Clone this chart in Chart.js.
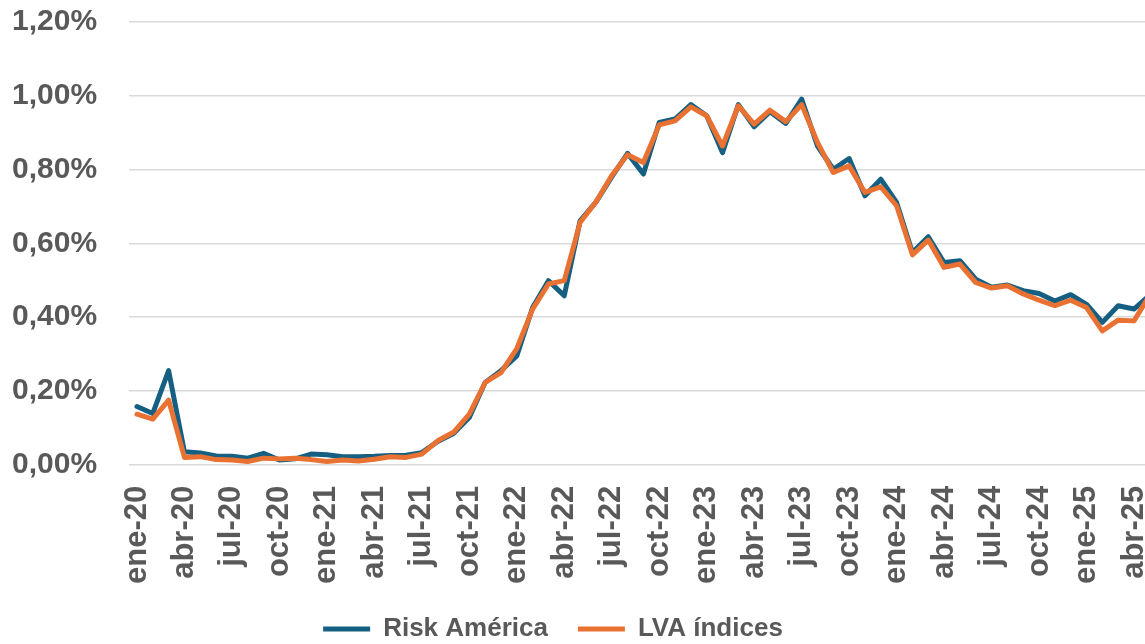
<!DOCTYPE html>
<html>
<head>
<meta charset="utf-8">
<script src="https://cdn.jsdelivr.net/npm/chart.js@4/dist/chart.umd.min.js"></script>
<style>
  html, body { margin: 0; padding: 0; background: #ffffff; overflow: hidden; }
  body { position: relative; width: 1145px; height: 644px; }
  /* chart is a bit bigger than the window and cropped, like the original */
  #wrap { position: absolute; left: -20px; top: -28px; width: 1228px; height: 699px; }
</style>
</head>
<body>
<div id="wrap"><canvas id="riskChart"></canvas></div>
<script>
// Months shown on the x axis (monthly data, label every 3 months)
const categories = [
  'ene-20','feb-20','mar-20','abr-20','may-20','jun-20','jul-20','ago-20','sep-20','oct-20','nov-20','dic-20',
  'ene-21','feb-21','mar-21','abr-21','may-21','jun-21','jul-21','ago-21','sep-21','oct-21','nov-21','dic-21',
  'ene-22','feb-22','mar-22','abr-22','may-22','jun-22','jul-22','ago-22','sep-22','oct-22','nov-22','dic-22',
  'ene-23','feb-23','mar-23','abr-23','may-23','jun-23','jul-23','ago-23','sep-23','oct-23','nov-23','dic-23',
  'ene-24','feb-24','mar-24','abr-24','may-24','jun-24','jul-24','ago-24','sep-24','oct-24','nov-24','dic-24',
  'ene-25','feb-25','mar-25','abr-25','may-25'
];

// Values in percent
const riskAmerica = [
  0.158, 0.139, 0.255, 0.035, 0.032, 0.024, 0.023, 0.018, 0.031, 0.013, 0.016, 0.029,
  0.027, 0.022, 0.022, 0.023, 0.025, 0.026, 0.033, 0.063, 0.085, 0.128, 0.223, 0.255,
  0.295, 0.426, 0.499, 0.458, 0.661, 0.712, 0.780, 0.844, 0.788, 0.928, 0.937, 0.976,
  0.946, 0.846, 0.976, 0.916, 0.957, 0.925, 0.991, 0.864, 0.801, 0.830, 0.729, 0.774,
  0.711, 0.575, 0.618, 0.548, 0.553, 0.503, 0.481, 0.487, 0.472, 0.464, 0.444, 0.461,
  0.435, 0.386, 0.431, 0.422, 0.460
];

const lvaIndices = [
  0.137, 0.124, 0.175, 0.020, 0.022, 0.014, 0.013, 0.009, 0.018, 0.016, 0.018, 0.014,
  0.009, 0.013, 0.010, 0.015, 0.022, 0.020, 0.029, 0.065, 0.088, 0.137, 0.223, 0.250,
  0.315, 0.422, 0.490, 0.499, 0.657, 0.712, 0.784, 0.840, 0.819, 0.921, 0.932, 0.970,
  0.946, 0.864, 0.973, 0.923, 0.961, 0.930, 0.976, 0.874, 0.792, 0.810, 0.738, 0.753,
  0.702, 0.569, 0.609, 0.535, 0.544, 0.494, 0.479, 0.485, 0.463, 0.446, 0.431, 0.446,
  0.426, 0.363, 0.392, 0.390, 0.460
];

const yTicks = [0, 0.2, 0.4, 0.6, 0.8, 1.0, 1.2];

const textColor = '#595959';
const fontFamily = '"Liberation Sans", Arial, sans-serif';

// The legend in the original sits left of the centre and close under the labels
const legendShift = {
  id: 'legendShift',
  afterLayout(chart) {
    const legend = chart.legend;
    legend.left -= 41;
    legend.right -= 41;
    legend.top -= 19;
    legend.bottom -= 19;
  }
};

const ctx = document.getElementById('riskChart').getContext('2d');

new Chart(ctx, {
  type: 'line',
  data: {
    labels: categories,
    datasets: [
      {
        label: 'Risk América',
        data: riskAmerica,
        borderColor: '#156082',
        backgroundColor: '#156082',
        borderWidth: 5,
        borderCapStyle: 'round',
        borderJoinStyle: 'round',
        pointRadius: 0,
        tension: 0,
        order: 1
      },
      {
        label: 'LVA índices',
        data: lvaIndices,
        borderColor: '#E97132',
        backgroundColor: '#E97132',
        borderWidth: 5,
        borderCapStyle: 'round',
        borderJoinStyle: 'round',
        pointRadius: 0,
        tension: 0,
        order: 0
      }
    ]
  },
  options: {
    responsive: true,
    maintainAspectRatio: false,
    animation: false,
    layout: { padding: 0 },
    plugins: {
      tooltip: { enabled: false },
      legend: {
        position: 'bottom',
        labels: {
          usePointStyle: true,
          pointStyle: 'line',
          pointStyleWidth: 47,
          padding: 30,
          color: textColor,
          font: { family: fontFamily, size: 26, weight: 'bold' },
          sort: (a, b) => a.datasetIndex - b.datasetIndex
        }
      }
    },
    scales: {
      x: {
        type: 'category',
        offset: true,
        grid: { display: false, drawTicks: false },
        border: { display: false },
        ticks: {
          autoSkip: false,
          minRotation: 90,
          maxRotation: 90,
          padding: 21,
          color: textColor,
          font: { family: fontFamily, size: 31, weight: 'bold' },
          callback: function (value, index) {
            return index % 3 === 0 ? categories[index] : '';
          }
        }
      },
      y: {
        min: 0,
        max: 1.2,
        afterBuildTicks: (axis) => {
          axis.ticks = yTicks.map(v => ({ value: v }));
        },
        grid: { color: '#d9d9d9', lineWidth: 1.5, drawTicks: false },
        border: { display: false },
        ticks: {
          padding: 32,
          color: textColor,
          font: { family: fontFamily, size: 30, weight: 'bold' },
          callback: (v) => v.toFixed(2).replace('.', ',') + '%'
        }
      }
    }
  },
  plugins: [legendShift]
});
</script>
</body>
</html>
